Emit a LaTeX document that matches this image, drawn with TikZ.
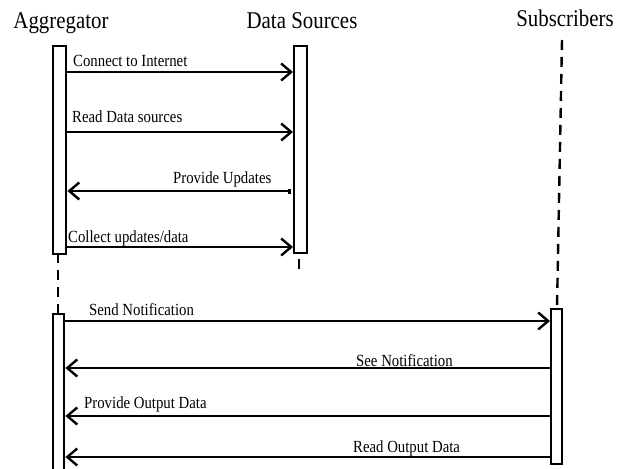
\documentclass[tikz,border=0pt]{standalone}
\usepackage{fontspec}
\setmainfont{Liberation Serif}[FakeStretch=0.87]
\usetikzlibrary{arrows.meta}
\tikzset{
  x=1pt, y=-1pt,
  actbox/.style={draw, line width=2.4pt, fill=white, inner sep=0pt, anchor=north west},
  lifeline/.style={line width=2.4pt, dash pattern=on 10pt off 7pt},
  msg/.style={line width=2.6pt, -{Straight Barb[length=10pt, width=17pt, line width=2.4pt]}},
  head/.style={font=\fontsize{24}{28}\selectfont, anchor=base, inner sep=0pt},
  lbl/.style={font=\fontsize{17}{20}\selectfont, anchor=base west, inner sep=0pt}
}
\begin{document}
\begin{tikzpicture}
\useasboundingbox (0,0) rectangle (631,468);
\clip (0,0) rectangle (631,468);

% participants
\node[head] (hAgg) at (61,29) {Aggregator};
\node[head] (hDs)  at (302,29) {Data Sources};
\node[head] (hSub) at (565,27) {Subscribers};

% lifelines (dashed parts)
\coordinate (subTop) at (562,40);
\coordinate (dsEnd) at (299,276);
\draw[lifeline] (subTop) -- (557,308);
\draw[lifeline] (58,253) -- (58,313);
\draw[lifeline] (299,259) -- (dsEnd);

% activation boxes
\node[actbox, minimum width=13pt, minimum height=208pt] (agg1) at (52,45) {};
\node[actbox, minimum width=13pt, minimum height=207pt] (ds1)  at (293,45) {};
\node[actbox, minimum width=11pt, minimum height=170pt] (agg2) at (52,313) {};
\node[actbox, minimum width=11pt, minimum height=155pt] (sub1) at (550,308) {};

% first phase: aggregator and data sources
\draw[msg] (agg1.east |- 0,72)  -- (ds1.west |- 0,72);
\node[lbl] (m1) at (73,67) {Connect to Internet};

\draw[msg] (agg1.east |- 0,132) -- (ds1.west |- 0,132);
\node[lbl] (m2) at (72,122) {Read Data sources};

\draw[line width=2.6pt, {Square[length=3.5pt, width=5pt]}-{Straight Barb[length=10pt, width=17pt, line width=2.4pt]}]
  ([xshift=-2pt]ds1.west |- 0,191) -- (agg1.east |- 0,191);
\node[lbl] (m3) at (173,183) {Provide Updates};

\draw[msg] (agg1.east |- 0,247) -- (ds1.west |- 0,247);
\node[lbl] (m4) at (68,242) {Collect updates/data};

% second phase: aggregator and subscribers
\draw[msg] (agg2.east |- 0,321) -- (sub1.west |- 0,321);
\node[lbl] (m5) at (89,315) {Send Notification};

\draw[msg] (sub1.west |- 0,368) -- (agg2.east |- 0,368);
\node[lbl] (m6) at (356,366) {See Notification};

\draw[msg] (sub1.west |- 0,416) -- (agg2.east |- 0,416);
\node[lbl] (m7) at (84,408) {Provide Output Data};

\draw[msg] (sub1.west |- 0,457) -- (agg2.east |- 0,457);
\node[lbl] (m8) at (353,452) {Read Output Data};
\end{tikzpicture}
\end{document}
